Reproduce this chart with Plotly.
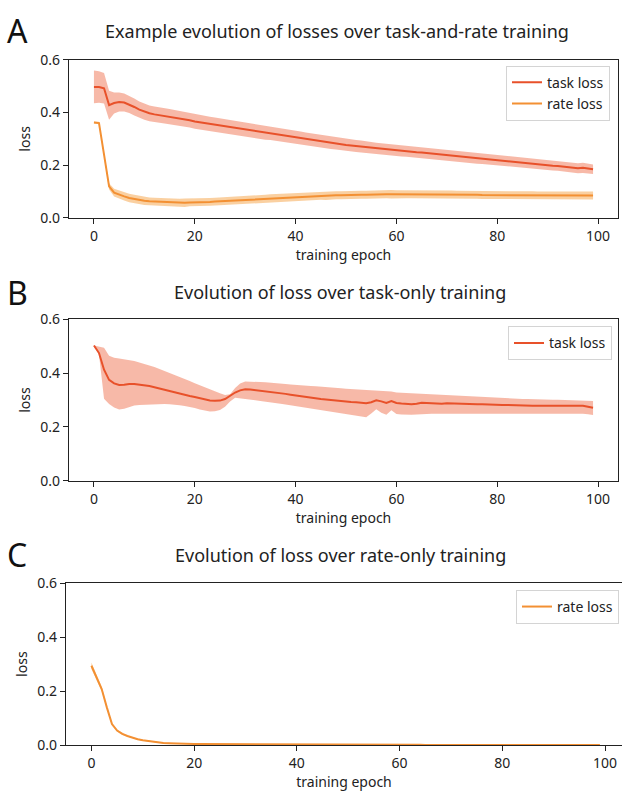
import plotly.graph_objects as go

# ---------------- data ----------------
epochs = list(range(100))

# A: task-and-rate training (mean and half-width of the band)
a_task_mean = [
    0.497, 0.497, 0.492, 0.428, 0.436, 0.440, 0.438, 0.431, 0.421, 0.411,
    0.403, 0.397, 0.393, 0.390, 0.387, 0.384, 0.381, 0.378, 0.375, 0.371,
    0.366, 0.363, 0.360, 0.357, 0.354, 0.351, 0.348, 0.345, 0.342, 0.339,
    0.336, 0.333, 0.330, 0.327, 0.323, 0.321, 0.318, 0.315, 0.312, 0.309,
    0.306, 0.303, 0.300, 0.297, 0.294, 0.291, 0.288, 0.286, 0.283, 0.280,
    0.277, 0.275, 0.273, 0.271, 0.268, 0.266, 0.263, 0.261, 0.259, 0.257,
    0.256, 0.255, 0.253, 0.251, 0.249, 0.248, 0.246, 0.244, 0.242, 0.240,
    0.238, 0.236, 0.234, 0.232, 0.230, 0.228, 0.226, 0.225, 0.223, 0.221,
    0.220, 0.218, 0.216, 0.214, 0.212, 0.210, 0.208, 0.206, 0.204, 0.202,
    0.200, 0.198, 0.197, 0.195, 0.193, 0.190, 0.189, 0.190, 0.188, 0.185,
]
a_task_sd = [
    0.062, 0.060, 0.058, 0.055, 0.040, 0.036, 0.034, 0.033, 0.032, 0.031,
    0.030, 0.030, 0.030, 0.029, 0.029, 0.029, 0.029, 0.028, 0.028, 0.028,
    0.028, 0.028, 0.027, 0.027, 0.027, 0.027, 0.027, 0.027, 0.026, 0.026,
    0.026, 0.026, 0.026, 0.026, 0.026, 0.025, 0.025, 0.025, 0.025, 0.025,
    0.025, 0.025, 0.024, 0.024, 0.024, 0.024, 0.024, 0.024, 0.023, 0.023,
    0.023, 0.023, 0.023, 0.023, 0.022, 0.022, 0.022, 0.022, 0.022, 0.022,
    0.022, 0.022, 0.021, 0.021, 0.021, 0.021, 0.021, 0.021, 0.021, 0.021,
    0.020, 0.020, 0.020, 0.020, 0.020, 0.020, 0.020, 0.020, 0.020, 0.020,
    0.019, 0.019, 0.019, 0.019, 0.019, 0.019, 0.019, 0.019, 0.019, 0.019,
    0.018, 0.018, 0.018, 0.018, 0.018, 0.018, 0.019, 0.019, 0.018, 0.018,
]
a_rate_mean = [
    0.362, 0.360, 0.240, 0.120, 0.096, 0.088, 0.082, 0.076, 0.072, 0.068,
    0.065, 0.063, 0.062, 0.061, 0.060, 0.060, 0.059, 0.058, 0.058, 0.059,
    0.059, 0.060, 0.060, 0.061, 0.062, 0.063, 0.064, 0.065, 0.066, 0.068,
    0.069, 0.070, 0.071, 0.072, 0.073, 0.075, 0.076, 0.077, 0.078, 0.079,
    0.080, 0.081, 0.082, 0.082, 0.083, 0.084, 0.084, 0.085, 0.086, 0.086,
    0.087, 0.087, 0.088, 0.088, 0.088, 0.089, 0.089, 0.089, 0.090, 0.090,
    0.090, 0.090, 0.090, 0.090, 0.090, 0.090, 0.090, 0.089, 0.089, 0.089,
    0.089, 0.089, 0.088, 0.088, 0.088, 0.088, 0.088, 0.087, 0.087, 0.087,
    0.087, 0.087, 0.086, 0.086, 0.086, 0.086, 0.086, 0.086, 0.085, 0.085,
    0.085, 0.085, 0.085, 0.085, 0.085, 0.085, 0.085, 0.085, 0.085, 0.085,
]
a_rate_sd = [
    0.004, 0.005, 0.008, 0.012, 0.015, 0.016, 0.016, 0.016, 0.016, 0.016,
    0.016, 0.015, 0.015, 0.015, 0.016, 0.015, 0.016, 0.015, 0.016, 0.015,
    0.015, 0.015, 0.014, 0.015, 0.015, 0.015, 0.014, 0.015, 0.015, 0.015,
    0.015, 0.015, 0.015, 0.014, 0.015, 0.015, 0.015, 0.015, 0.015, 0.015,
    0.015, 0.015, 0.015, 0.015, 0.015, 0.015, 0.016, 0.015, 0.015, 0.015,
    0.015, 0.016, 0.015, 0.015, 0.015, 0.015, 0.016, 0.015, 0.015, 0.016,
    0.015, 0.015, 0.015, 0.015, 0.015, 0.016, 0.015, 0.015, 0.015, 0.015,
    0.015, 0.015, 0.015, 0.015, 0.015, 0.015, 0.015, 0.015, 0.015, 0.015,
    0.015, 0.015, 0.015, 0.015, 0.015, 0.015, 0.015, 0.015, 0.015, 0.015,
    0.015, 0.015, 0.015, 0.015, 0.015, 0.015, 0.015, 0.015, 0.015, 0.015,
]

# B: task-only training (mean with lower / upper band edges)
b_task_mean = [
    0.503, 0.475, 0.413, 0.375, 0.362, 0.356, 0.357, 0.360, 0.360, 0.358,
    0.355, 0.352, 0.348, 0.343, 0.338, 0.333, 0.328, 0.324, 0.319, 0.315,
    0.311, 0.306, 0.301, 0.298, 0.297, 0.298, 0.304, 0.316, 0.328, 0.336,
    0.340, 0.339, 0.337, 0.335, 0.333, 0.331, 0.328, 0.326, 0.323, 0.320,
    0.317, 0.314, 0.312, 0.309, 0.306, 0.304, 0.302, 0.300, 0.298, 0.295,
    0.294, 0.293, 0.292, 0.290, 0.288, 0.292, 0.299, 0.295, 0.289, 0.296,
    0.289, 0.287, 0.285, 0.284, 0.286, 0.290, 0.289, 0.288, 0.287, 0.286,
    0.288, 0.287, 0.286, 0.285, 0.285, 0.284, 0.284, 0.284, 0.283, 0.283,
    0.281, 0.282, 0.282, 0.281, 0.281, 0.280, 0.280, 0.279, 0.279, 0.279,
    0.278, 0.278, 0.278, 0.278, 0.279, 0.278, 0.278, 0.279, 0.275, 0.271,
]
b_task_upper = [
    0.503, 0.500, 0.495, 0.465, 0.458, 0.455, 0.452, 0.449, 0.445, 0.440,
    0.435, 0.429, 0.423, 0.416, 0.409, 0.402, 0.395, 0.387, 0.379, 0.371,
    0.363, 0.355, 0.347, 0.339, 0.332, 0.325, 0.319, 0.322, 0.345, 0.362,
    0.369, 0.369, 0.368, 0.367, 0.366, 0.365, 0.364, 0.362, 0.360, 0.358,
    0.356, 0.355, 0.354, 0.352, 0.351, 0.350, 0.348, 0.347, 0.345, 0.344,
    0.342, 0.341, 0.339, 0.338, 0.337, 0.336, 0.335, 0.334, 0.333, 0.332,
    0.328, 0.327, 0.326, 0.325, 0.324, 0.323, 0.322, 0.321, 0.320, 0.318,
    0.317, 0.316, 0.315, 0.314, 0.313, 0.312, 0.311, 0.310, 0.309, 0.308,
    0.307, 0.306, 0.306, 0.305, 0.305, 0.304, 0.304, 0.303, 0.303, 0.302,
    0.302, 0.301, 0.301, 0.300, 0.300, 0.299, 0.299, 0.298, 0.297, 0.296,
]
b_task_lower = [
    0.503, 0.470, 0.305, 0.285, 0.272, 0.265, 0.268, 0.275, 0.280, 0.282,
    0.283, 0.284, 0.285, 0.285, 0.285, 0.284, 0.283, 0.281, 0.278, 0.275,
    0.270, 0.265, 0.260, 0.257, 0.258, 0.263, 0.275, 0.295, 0.309, 0.307,
    0.305, 0.302, 0.299, 0.296, 0.294, 0.292, 0.289, 0.286, 0.283, 0.280,
    0.277, 0.274, 0.271, 0.268, 0.265, 0.262, 0.259, 0.256, 0.252, 0.249,
    0.246, 0.243, 0.240, 0.238, 0.236, 0.250, 0.266, 0.253, 0.245, 0.262,
    0.248, 0.246, 0.245, 0.245, 0.246, 0.248, 0.248, 0.249, 0.249, 0.250,
    0.250, 0.250, 0.250, 0.251, 0.251, 0.251, 0.251, 0.251, 0.251, 0.251,
    0.251, 0.251, 0.251, 0.250, 0.250, 0.250, 0.250, 0.250, 0.250, 0.250,
    0.250, 0.250, 0.250, 0.249, 0.249, 0.249, 0.249, 0.249, 0.247, 0.244,
]

# C: rate-only training (mean and half-width of the band)
c_rate_mean = [
    0.294, 0.252, 0.208, 0.140, 0.078, 0.054, 0.042, 0.034, 0.027, 0.022,
    0.018, 0.015, 0.012, 0.010, 0.008, 0.007, 0.006, 0.006, 0.005, 0.005,
    0.004, 0.004, 0.004, 0.004, 0.004, 0.003, 0.003, 0.003, 0.003, 0.003,
    0.003, 0.003, 0.003, 0.003, 0.003, 0.003, 0.003, 0.003, 0.002, 0.002,
    0.002, 0.002, 0.002, 0.002, 0.002, 0.002, 0.002, 0.002, 0.002, 0.002,
    0.002, 0.002, 0.002, 0.002, 0.002, 0.002, 0.002, 0.002, 0.002, 0.002,
    0.002, 0.002, 0.002, 0.002, 0.002, 0.001, 0.001, 0.001, 0.001, 0.001,
    0.001, 0.001, 0.001, 0.001, 0.001, 0.001, 0.001, 0.001, 0.001, 0.001,
    0.001, 0.001, 0.001, 0.001, 0.001, 0.001, 0.001, 0.001, 0.001, 0.001,
    0.001, 0.001, 0.001, 0.001, 0.001, 0.001, 0.001, 0.001, 0.001, 0.001,
]
c_rate_sd = [
    0.012, 0.010, 0.008, 0.005, 0.004, 0.003, 0.003, 0.002, 0.002, 0.002,
    0.002, 0.002, 0.002, 0.002, 0.002, 0.002, 0.001, 0.001, 0.001, 0.001,
] + [0.001] * 80

y_ticks = [0.0, 0.2, 0.4, 0.6]
y_tick_labels = ["0.0", "0.2", "0.4", "0.6"]
x_ticks = [0, 20, 40, 60, 80, 100]

# ---------------- styling ----------------
TASK_LINE = "#e8512a"
TASK_BAND = "rgba(240,128,96,0.55)"
RATE_LINE = "#f39033"
RATE_BAND = "rgba(247,176,98,0.6)"
FONT = "Noto Sans"
W, H = 622, 803

fig = go.Figure()


def band(xref, yref, lower, upper, color, legend):
    fig.add_trace(go.Scatter(
        x=epochs, y=lower, mode="lines", line=dict(width=0),
        xaxis=xref, yaxis=yref, showlegend=False, hoverinfo="skip", legend=legend))
    fig.add_trace(go.Scatter(
        x=epochs, y=upper, mode="lines", line=dict(width=0), fill="tonexty",
        fillcolor=color, xaxis=xref, yaxis=yref, showlegend=False,
        hoverinfo="skip", legend=legend))


def line(xref, yref, mean, color, name, legend):
    fig.add_trace(go.Scatter(
        x=epochs, y=mean, mode="lines", line=dict(color=color, width=2),
        name=name, xaxis=xref, yaxis=yref, legend=legend))


# panel A
band("x", "y", [m - s for m, s in zip(a_task_mean, a_task_sd)],
     [m + s for m, s in zip(a_task_mean, a_task_sd)], TASK_BAND, "legend")
band("x", "y", [m - s for m, s in zip(a_rate_mean, a_rate_sd)],
     [m + s for m, s in zip(a_rate_mean, a_rate_sd)], RATE_BAND, "legend")
line("x", "y", a_task_mean, TASK_LINE, "task loss", "legend")
line("x", "y", a_rate_mean, RATE_LINE, "rate loss", "legend")

# panel B
band("x2", "y2", b_task_lower, b_task_upper, TASK_BAND, "legend2")
line("x2", "y2", b_task_mean, TASK_LINE, "task loss", "legend2")

# panel C
band("x3", "y3", [m - s for m, s in zip(c_rate_mean, c_rate_sd)],
     [m + s for m, s in zip(c_rate_mean, c_rate_sd)], RATE_BAND, "legend3")
line("x3", "y3", c_rate_mean, RATE_LINE, "rate loss", "legend3")


def px_x(v):
    return v / W


def px_y(v):
    return 1 - v / H


panels = [
    # (suffix, x-domain px, y-domain px (top, bottom), x range, mirror-y)
    ("", (69, 618), (51, 213), [-4.95, 103.95], True),
    ("2", (69, 618), (317, 482), [-4.95, 103.95], True),
    ("3", (66, 622), (587, 753), [-4.95, 103.3], False),
]

axis_font = dict(family=FONT, size=14, color="#222222")
for suf, (xl, xr), (yt, yb), xr_range, mirror_y in panels:
    fig.layout["xaxis" + suf] = dict(
        domain=[px_x(xl), px_x(xr)], range=xr_range, anchor="y" + suf,
        tickvals=x_ticks, ticks="outside", ticklen=5, tickwidth=1.2,
        tickcolor="#222222", showline=True, linecolor="#222222", linewidth=1.3,
        mirror=True, showgrid=False, zeroline=False, tickfont=axis_font,
        title=dict(text="training epoch", font=axis_font, standoff=3),
    )
    fig.layout["yaxis" + suf] = dict(
        domain=[px_y(yb), px_y(yt)], range=[0, 0.6], anchor="x" + suf,
        tickvals=y_ticks, ticktext=y_tick_labels, ticks="outside", ticklen=5,
        tickwidth=1.2, tickcolor="#222222", showline=True, linecolor="#222222",
        linewidth=1.3, mirror=mirror_y, showgrid=False, zeroline=False,
        tickfont=axis_font, title=dict(text="loss", font=axis_font, standoff=6),
    )

legend_style = dict(
    bgcolor="rgba(255,255,255,0.9)", bordercolor="#d4d4d4", borderwidth=1,
    font=dict(family=FONT, size=14, color="#222222"),
    xanchor="right", yanchor="top", tracegroupgap=0, traceorder="normal",
)
fig.update_layout(
    legend=dict(x=px_x(610), y=px_y(57), **legend_style),
    legend2=dict(x=px_x(612), y=px_y(324), **legend_style),
    legend3=dict(x=px_x(619), y=px_y(594), **legend_style),
)

titles = [
    ("A", "Example evolution of losses over task-and-rate training", 21, 337),
    ("B", "Evolution of loss over task-only training", 289, 340),
    ("C", "Evolution of loss over rate-only training", 558, 340),
]
annotations = []
for letter, text, ty, tx in titles:
    annotations.append(dict(
        text=text, x=px_x(tx), y=px_y(ty), xref="paper", yref="paper",
        xanchor="center", yanchor="middle", showarrow=False,
        font=dict(family=FONT, size=18, color="#222222")))
    annotations.append(dict(
        text=letter, x=px_x(5), y=px_y(ty), xref="paper", yref="paper",
        xanchor="left", yanchor="middle", showarrow=False,
        font=dict(family=FONT, size=32, color="#111111")))

fig.update_layout(
    width=W, height=H, margin=dict(l=0, r=0, t=0, b=0),
    paper_bgcolor="white", plot_bgcolor="white",
    annotations=annotations, font=dict(family=FONT),
)

fig.write_html("out.html")
